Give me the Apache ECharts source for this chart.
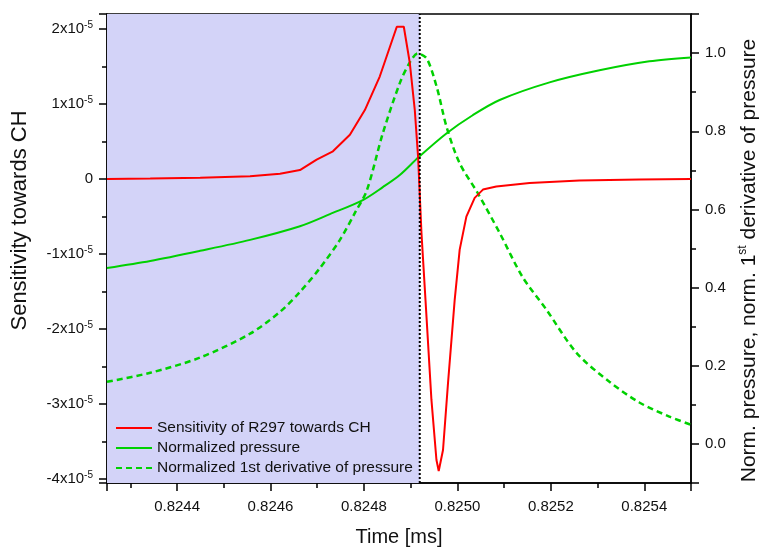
<!DOCTYPE html>
<html>
<head>
<meta charset="utf-8">
<script src="https://cdn.jsdelivr.net/npm/echarts@6/dist/echarts.min.js"></script>
<style>
  html, body { margin: 0; padding: 0; background: #fff; }
  #main { width: 761px; height: 548px; }
</style>
</head>
<body>
<div id="main"></div>
<script>
// time axis [ms]
var redTime = [0.82425, 0.8243425, 0.8244494, 0.8245562, 0.8246203, 0.8246630, 0.8246987, 0.8247336, 0.8247699, 0.8248019, 0.8248340, 0.8248703, 0.8248853, 0.8248981, 0.8249088, 0.8249158, 0.8249231, 0.8249338, 0.8249444, 0.8249551, 0.8249600, 0.8249692, 0.8249799, 0.8249942, 0.8250049, 0.8250192, 0.8250370, 0.8250547, 0.8250833, 0.8251545, 0.8252613, 0.8253895, 0.82550];
// sensitivity of R297 towards CH
var redValue = [0, 0.007e-5, 0.017e-5, 0.037e-5, 0.07e-5, 0.12e-5, 0.26e-5, 0.37e-5, 0.59e-5, 0.92e-5, 1.37e-5, 2.03e-5, 2.03e-5, 1.55e-5, 0.92e-5, 0.30e-5, -0.72e-5, -1.83e-5, -2.94e-5, -3.74e-5, -3.89e-5, -3.61e-5, -2.72e-5, -1.61e-5, -0.94e-5, -0.50e-5, -0.25e-5, -0.14e-5, -0.10e-5, -0.053e-5, -0.019e-5, -0.004e-5, 0];

var pressTime = [0.82425, 0.8243425, 0.8244494, 0.8245562, 0.8246630, 0.8247271, 0.8247977, 0.8248404, 0.8248767, 0.8249173, 0.8249771, 0.8250327, 0.8250904, 0.8251972, 0.8253041, 0.8254109, 0.82550];
var pressValue = [0.450, 0.468, 0.494, 0.522, 0.557, 0.588, 0.624, 0.657, 0.688, 0.734, 0.795, 0.841, 0.880, 0.925, 0.956, 0.979, 0.989];

var derivTime = [0.82425, 0.8243425, 0.8244494, 0.8245562, 0.8246203, 0.8246630, 0.8247058, 0.8247485, 0.8247806, 0.8248062, 0.8248404, 0.8248767, 0.8248981, 0.8249152, 0.8249344, 0.8249558, 0.8249771, 0.8250049, 0.8250434, 0.8250904, 0.8251395, 0.8251908, 0.8252549, 0.8253254, 0.8253895, 0.8254536, 0.82550];
var derivValue = [0.159, 0.182, 0.221, 0.282, 0.338, 0.389, 0.450, 0.522, 0.591, 0.649, 0.795, 0.923, 0.976, 0.999, 0.986, 0.913, 0.810, 0.718, 0.642, 0.540, 0.427, 0.343, 0.233, 0.159, 0.106, 0.070, 0.049];

// axis ranges
var timeMin = 0.82425, timeMax = 0.8255;
var sensMin = -4.05e-5, sensMax = 2.2e-5;
var normMin = -0.1, normMax = 1.1;

// shaded region ends at the dotted line
var shadeEnd = 0.8249194;

var seriesNames = ['Sensitivity of R297 towards CH', 'Normalized pressure', 'Normalized 1st derivative of pressure'];

function pairs(xs, ys) {
    var out = [];
    for (var i = 0; i < xs.length; i++) out.push([xs[i], ys[i]]);
    return out;
}

var font = 'Liberation Sans, Arial, sans-serif';
var tickStyle = { color: '#000', width: 1.5 };
var myChart = echarts.init(document.getElementById('main'));

myChart.setOption({
    animation: false,
    textStyle: { fontFamily: font },
    grid: {
        left: 107, right: 70, top: 14, bottom: 65,
        outerBoundsMode: 'none',
        show: true, borderColor: '#000', borderWidth: 1.5, backgroundColor: 'transparent'
    },
    legend: {
        data: seriesNames,
        orient: 'vertical',
        left: 115, top: 420, padding: 0,
        itemWidth: 36, itemHeight: 15, itemGap: 4,
        itemStyle: { color: 'transparent', borderColor: 'transparent', borderWidth: 0 },
        textStyle: { fontSize: 15.5, lineHeight: 15, color: '#111', fontFamily: font }
    },
    xAxis: {
        type: 'value',
        min: timeMin, max: timeMax,
        splitNumber: 6, minInterval: 0.0002, maxInterval: 0.0002,
        name: 'Time [ms]', nameLocation: 'middle', nameGap: 44,
        nameTextStyle: { fontSize: 20, color: '#111' },
        axisLine: { onZero: false, lineStyle: tickStyle },
        axisTick: { inside: false, length: 8, lineStyle: tickStyle },
        minorTick: { show: true, splitNumber: 2, length: 5, lineStyle: tickStyle },
        splitLine: { show: false },
        axisLabel: {
            fontSize: 15, color: '#111', margin: 16,
            showMinLabel: false, showMaxLabel: false,
            formatter: function (v) { return v.toFixed(4); }
        }
    },
    yAxis: [
        {
            type: 'value', position: 'left',
            min: sensMin, max: sensMax,
            splitNumber: 6, minInterval: 1e-5, maxInterval: 1e-5,
            name: 'Sensitivity towards CH', nameLocation: 'middle', nameGap: 76, nameRotate: 90,
            nameTextStyle: { fontSize: 22, color: '#111', padding: [0, 0, 0, 56] },
            axisLine: { show: true, onZero: false, lineStyle: tickStyle },
            axisTick: { show: true, inside: false, length: 8, lineStyle: tickStyle },
            minorTick: { show: true, splitNumber: 2, length: 5, lineStyle: tickStyle },
            splitLine: { show: false },
            axisLabel: {
                color: '#111', margin: 14,
                showMinLabel: false, showMaxLabel: false,
                formatter: function (v) {
                    var n = Math.round(v / 1e-5);
                    if (n === 0) return '{m|0}';
                    return '{m|' + n + 'x10}{s|-5}';
                },
                rich: {
                    m: { fontSize: 15, lineHeight: 18, color: '#111', fontFamily: font },
                    s: { fontSize: 10, lineHeight: 10, verticalAlign: 'top', color: '#111', fontFamily: font }
                }
            }
        },
        {
            type: 'value', position: 'right',
            min: normMin, max: normMax,
            splitNumber: 6, minInterval: 0.2, maxInterval: 0.2,
            name: '{n|Norm. pressure, norm. 1}{s|st}{n| derivative of pressure}',
            nameLocation: 'middle', nameGap: 45, nameRotate: 90,
            nameTextStyle: {
                padding: [0, 24, 0, 0],
                rich: {
                    n: { fontSize: 21, lineHeight: 24, color: '#111', fontFamily: font },
                    s: { fontSize: 12, lineHeight: 13, verticalAlign: 'top', color: '#111', fontFamily: font }
                }
            },
            axisLine: { show: true, onZero: false, lineStyle: tickStyle },
            axisTick: { show: true, inside: false, length: 8, lineStyle: tickStyle },
            minorTick: { show: true, splitNumber: 2, length: 5, lineStyle: tickStyle },
            splitLine: { show: false },
            axisLabel: {
                fontSize: 15, color: '#111', margin: 14,
                showMinLabel: false, showMaxLabel: false,
                formatter: function (v) { return v.toFixed(1); }
            }
        }
    ],
    series: [
        {
            name: seriesNames[0],
            type: 'line',
            yAxisIndex: 0,
            symbol: 'none',
            z: 4,
            lineStyle: { color: '#ff0000', width: 2 },
            itemStyle: { color: '#ff0000' },
            data: pairs(redTime, redValue),
            markArea: {
                silent: true,
                itemStyle: { color: 'rgb(211,211,248)' },
                data: [[{ xAxis: timeMin }, { xAxis: shadeEnd }]]
            }
        },
        {
            name: seriesNames[1],
            type: 'line',
            yAxisIndex: 1,
            symbol: 'none',
            smooth: 0.3,
            z: 3,
            lineStyle: { color: '#00d100', width: 2 },
            itemStyle: { color: '#00d100' },
            data: pairs(pressTime, pressValue)
        },
        {
            name: seriesNames[2],
            type: 'line',
            yAxisIndex: 1,
            symbol: 'none',
            smooth: 0.3,
            z: 3,
            lineStyle: { color: '#00d100', width: 2.5, type: [6, 4] },
            itemStyle: { color: '#00d100' },
            data: pairs(derivTime, derivValue)
        },
        {
            // dotted boundary of the shaded region
            name: 'boundary',
            type: 'line',
            yAxisIndex: 0,
            symbol: 'none',
            silent: true,
            z: 5,
            lineStyle: { color: '#000', width: 2, type: 'dotted' },
            data: [[shadeEnd, sensMin], [shadeEnd, sensMax]]
        }
    ]
});
</script>
</body>
</html>
